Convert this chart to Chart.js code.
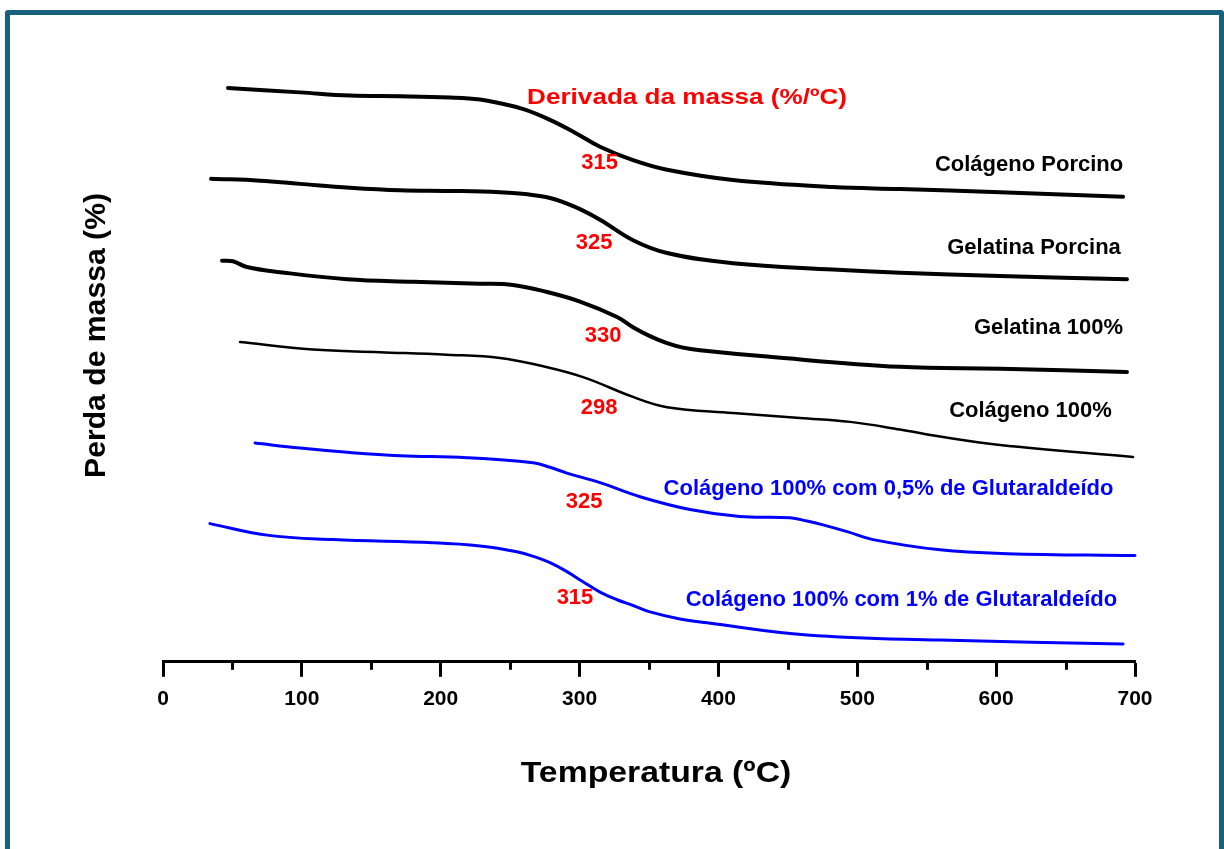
<!DOCTYPE html>
<html>
<head>
<meta charset="utf-8">
<script src="https://cdn.jsdelivr.net/npm/chart.js@4/dist/chart.umd.min.js"></script>
<style>
  html, body { margin: 0; padding: 0; background: #fff; }
  #frame {
    position: absolute; left: 5px; top: 10px; width: 1209px; height: 900px;
    border: 5px solid #17607f; border-radius: 3px;
  }
  #c { position: absolute; left: 0; top: 0; }
</style>
</head>
<body>
<div id="frame"></div>
<canvas id="c" width="1224" height="849"></canvas>
<script>
// temperature (ºC) and stacked mass-loss curves (arbitrary offset units, 0-100)
const tColagenoPorcino = [46.8, 98.7, 134.7, 170.7, 206.7, 228.3, 242.7, 260.7, 278.7, 296.7, 314.7, 338.5, 363.0, 410.5, 482.5, 530.8, 602.8, 691.4];
const yColagenoPorcino = [89.7, 89.0, 88.5, 88.4, 88.2, 87.9, 87.3, 86.3, 84.7, 82.7, 80.5, 78.4, 76.9, 75.3, 74.2, 73.9, 73.4, 72.7];

const tGelatinaPorcina = [34.6, 69.9, 98.7, 134.7, 170.7, 206.7, 242.7, 260.7, 278.7, 296.7, 314.7, 338.5, 363.0, 410.5, 482.5, 530.8, 602.8, 694.2];
const yGelatinaPorcina = [75.5, 75.2, 74.7, 74.1, 73.7, 73.6, 73.4, 73.1, 72.5, 71.1, 69.1, 65.9, 63.9, 62.3, 61.3, 60.8, 60.3, 59.8];

const tGelatina100 = [42.5, 50.4, 60.5, 84.3, 132.5, 180.0, 228.3, 252.1, 276.5, 300.3, 327.0, 338.5, 350.7, 363.0, 374.5, 386.7, 435.0, 530.8, 602.8, 694.2];
const yGelatina100 = [62.7, 62.6, 61.7, 60.9, 59.8, 59.4, 59.1, 58.9, 57.8, 56.3, 53.9, 52.3, 50.9, 49.8, 49.1, 48.7, 47.7, 46.1, 45.8, 45.3];

const tColageno100 = [55.5, 108.0, 156.3, 204.5, 242.7, 271.5, 302.5, 338.5, 363.0, 410.5, 458.7, 494.8, 530.8, 559.6, 602.8, 698.6];
const yColageno100 = [50.0, 48.8, 48.4, 48.0, 47.5, 46.3, 44.5, 41.4, 39.8, 38.9, 38.1, 37.5, 36.3, 35.2, 33.9, 32.0];

const tGlut05 = [66.3, 98.7, 134.7, 170.7, 218.9, 266.5, 278.7, 290.9, 314.7, 343.5, 379.5, 415.5, 451.5, 463.8, 475.3, 493.3, 511.3, 559.6, 607.8, 700.0];
const yGlut05 = [34.2, 33.4, 32.7, 32.2, 31.9, 31.1, 30.4, 29.5, 28.0, 25.8, 23.8, 22.7, 22.5, 22.0, 21.4, 20.3, 19.1, 17.5, 16.9, 16.6];

const tGlut1 = [33.8, 74.9, 122.4, 194.4, 228.3, 254.9, 267.9, 278.7, 290.9, 302.5, 314.7, 327.0, 338.5, 350.7, 372.3, 391.8, 463.8, 559.6, 691.4];
const yGlut1 = [21.6, 19.8, 19.1, 18.6, 18.1, 17.2, 16.4, 15.5, 14.1, 12.5, 10.9, 9.7, 8.8, 7.8, 6.7, 6.1, 4.2, 3.4, 2.8];

const xTicks = [0, 100, 200, 300, 400, 500, 600, 700];
const xMinorTicks = [50, 150, 250, 350, 450, 550, 650];

// text annotations: label, temperature, offset value
const noteText = ['Derivada da massa (%/ºC)', '315', '325', '330', '298', '325', '315',
  'Colágeno Porcino', 'Gelatina Porcina', 'Gelatina 100%', 'Colágeno 100%',
  'Colágeno 100% com 0,5% de Glutaraldeído', 'Colágeno 100% com 1% de Glutaraldeído'];
const noteT = [377.4, 314.4, 310.4, 316.9, 314.0, 303.2, 296.7, 623.7, 627.3, 637.7, 624.7, 522.5, 531.8];
const noteV = [88.4, 78.3, 65.8, 51.15, 40.0, 25.3, 10.3, 78.0, 65.0, 52.5, 39.5, 27.3, 9.9];
const noteColor = ['red', 'red', 'red', 'red', 'red', 'red', 'red',
  '#000', '#000', '#000', '#000', '#0000ff', '#0000ff'];

const FONT = '"Liberation Sans", Arial, sans-serif';

function pts(t, y) { return t.map((v, i) => ({x: v, y: y[i]})); }

function series(t, y, color, width) {
  return {
    data: pts(t, y), borderColor: color, borderWidth: width,
    pointRadius: 0, fill: false, tension: 0.4, clip: false,
    borderCapStyle: 'round', borderJoinStyle: 'round'
  };
}

const extras = {
  id: 'extras',
  afterDraw(chart) {
    const {ctx, scales: {x, y}} = chart;
    const base = chart.chartArea.bottom;

    // minor ticks
    ctx.save();
    ctx.strokeStyle = '#000';
    ctx.lineWidth = 3;
    xMinorTicks.forEach(v => {
      const px = Math.round(x.getPixelForValue(v)) + 0.5;
      ctx.beginPath(); ctx.moveTo(px, base); ctx.lineTo(px, base + 8); ctx.stroke();
    });
    ctx.restore();

    // annotations
    noteText.forEach((txt, i) => {
      const size = 22;
      const sx = i === 0 ? 1.186 : 1;
      ctx.save();
      ctx.translate(x.getPixelForValue(noteT[i]), y.getPixelForValue(noteV[i]));
      ctx.scale(sx, 1);
      ctx.font = 'bold ' + size + 'px ' + FONT;
      ctx.fillStyle = noteColor[i];
      ctx.textAlign = 'center';
      ctx.textBaseline = 'alphabetic';
      ctx.fillText(txt, 0, 0.358 * size);
      ctx.restore();
    });

    // axis titles
    ctx.save();
    ctx.fillStyle = '#000';
    ctx.textAlign = 'center';
    ctx.textBaseline = 'alphabetic';
    ctx.font = 'bold 30px ' + FONT;
    ctx.translate(656, 771);
    ctx.scale(1.125, 1);
    ctx.fillText('Temperatura (ºC)', 0, 0.358 * 30);
    ctx.restore();

    ctx.save();
    ctx.fillStyle = '#000';
    ctx.textAlign = 'center';
    ctx.textBaseline = 'alphabetic';
    ctx.font = 'bold 29px ' + FONT;
    ctx.translate(95, 335.5);
    ctx.rotate(-Math.PI / 2);
    ctx.scale(1.04, 1);
    ctx.fillText('Perda de massa (%)', 0, 0.358 * 29);
    ctx.restore();
  }
};

new Chart(document.getElementById('c'), {
  type: 'line',
  data: {
    datasets: [
      series(tColagenoPorcino, yColagenoPorcino, '#000', 4),
      series(tGelatinaPorcina, yGelatinaPorcina, '#000', 4),
      series(tGelatina100, yGelatina100, '#000', 4),
      series(tColageno100, yColageno100, '#000', 2.5),
      series(tGlut05, yGlut05, '#0000ff', 3),
      series(tGlut1, yGlut1, '#0000ff', 3)
    ]
  },
  options: {
    responsive: false,
    animation: false,
    devicePixelRatio: 1,
    layout: { padding: { left: 163, right: 89, top: 22, bottom: 127 } },
    plugins: { legend: { display: false }, tooltip: { enabled: false } },
    scales: {
      x: {
        type: 'linear', min: 0, max: 700,
        afterBuildTicks: s => { s.ticks = xTicks.map(v => ({value: v})); },
        ticks: { color: '#000', padding: 10, font: { family: FONT, size: 21, weight: 'bold' } },
        grid: { drawOnChartArea: false, drawTicks: true, tickLength: 15, tickWidth: 3, tickColor: '#000' },
        border: { display: true, color: '#000', width: 3 }
      },
      y: { display: false, min: 0, max: 100 }
    }
  },
  plugins: [extras]
});
</script>
</body>
</html>
